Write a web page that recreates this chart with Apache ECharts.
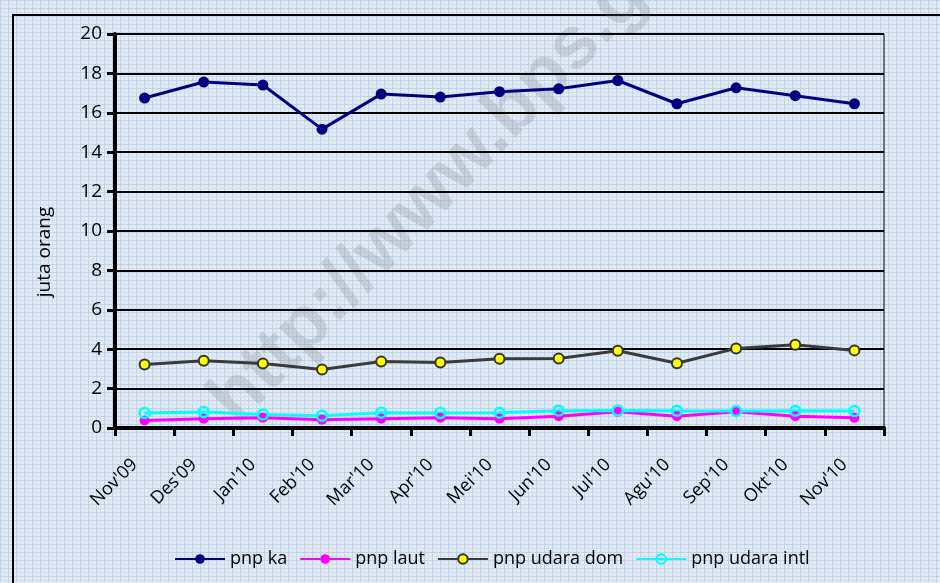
<!DOCTYPE html>
<html>
<head>
<meta charset="utf-8">
<title>pnp</title>
<script src="https://cdn.jsdelivr.net/npm/echarts@6/dist/echarts.min.js"></script>
<style>
  html, body { margin: 0; padding: 0; }
  #main { width: 940px; height: 583px; }
</style>
</head>
<body>
<div id="main"></div>
<script>
// data (juta orang)
var months = ["Nov'09", "Des'09", "Jan'10", "Feb'10", "Mar'10", "Apr'10", "Mei'10",
  "Jun'10", "Jul'10", "Agu'10", "Sep'10", "Okt'10", "Nov'10"];
var pnpKa = [16.75, 17.56, 17.41, 15.17, 16.95, 16.8, 17.07, 17.22, 17.64, 16.46, 17.27, 16.87, 16.46];
var pnpLaut = [0.38, 0.47, 0.52, 0.42, 0.47, 0.52, 0.47, 0.6, 0.82, 0.6, 0.83, 0.6, 0.52];
var pnpUdaraDom = [3.22, 3.41, 3.27, 2.97, 3.38, 3.33, 3.51, 3.53, 3.92, 3.29, 4.04, 4.23, 3.94];
var pnpUdaraIntl = [0.76, 0.81, 0.69, 0.62, 0.78, 0.76, 0.78, 0.88, 0.89, 0.87, 0.86, 0.87, 0.86];
var yTicks = { min: 0, max: 20, step: 2 };

// graph paper background like the excel chart
function paper() {
  var c = document.createElement('canvas');
  c.width = 8; c.height = 8;
  var g = c.getContext('2d');
  g.fillStyle = '#e3ebf6';
  g.fillRect(0, 0, 8, 8);
  g.fillStyle = '#bfd1e9';
  g.fillRect(0, 0, 8, 1);
  g.fillRect(0, 0, 1, 8);
  g.fillStyle = '#d3dfef';
  g.fillRect(0, 4, 8, 1);
  g.fillRect(4, 0, 1, 8);
  return c;
}

var font = 'Open Sans';
var chart = echarts.init(document.getElementById('main'));

chart.setOption({
  animation: false,
  backgroundColor: { image: paper(), repeat: 'repeat' },
  textStyle: { fontFamily: font },
  grid: {
    left: 115, right: 56, top: 34, bottom: 155,
    show: true, borderColor: '#000', borderWidth: 1
  },
  graphic: [
    {
      type: 'rect', silent: true, z: -1,
      shape: { x: 13, y: 15, width: 1000, height: 1000 },
      style: { fill: null, stroke: '#000', lineWidth: 2 }
    },
    {
      type: 'text', silent: true, z: 0,
      x: 250, y: 438, rotation: Math.PI / 4 + 0.02,
      style: {
        text: 'http://www.bps.go.id',
        font: 'bold 74px "Liberation Sans"',
        fill: 'rgba(120,120,120,0.22)',
        textVerticalAlign: 'bottom'
      }
    },
    {
      type: 'text', silent: true,
      x: 45, y: 252, rotation: Math.PI / 2,
      style: {
        text: 'juta orang',
        font: '19px "Open Sans"',
        fill: '#000',
        align: 'center', verticalAlign: 'middle'
      }
    }
  ],
  legend: {
    left: 169, top: 545,
    itemWidth: 50, itemHeight: 12, itemGap: 12,
    textStyle: { fontFamily: font, fontSize: 18, color: '#000' },
    data: ['pnp ka', 'pnp laut', 'pnp udara dom', 'pnp udara intl']
  },
  xAxis: {
    type: 'category',
    data: months,
    boundaryGap: true,
    axisLine: { lineStyle: { color: '#000', width: 4 } },
    axisTick: { show: true, interval: 0, length: 8, lineStyle: { color: '#000', width: 3 } },
    axisLabel: {
      interval: 0, rotate: 45, margin: 24, padding: [0, 14, 0, 0],
      fontFamily: font, fontSize: 18, color: '#000'
    }
  },
  yAxis: {
    type: 'value',
    min: yTicks.min, max: yTicks.max, interval: yTicks.step,
    axisLine: { show: true, lineStyle: { color: '#000', width: 4 } },
    axisTick: { show: true, length: 8, lineStyle: { color: '#000', width: 3 } },
    axisLabel: { margin: 13, fontFamily: font, fontSize: 19, color: '#000' },
    splitLine: { lineStyle: { color: '#000', width: 2 } }
  },
  series: [
    {
      name: 'pnp ka', type: 'line', data: pnpKa,
      symbol: 'circle', symbolSize: 11,
      lineStyle: { color: '#000080', width: 3 },
      itemStyle: { color: '#000080' }
    },
    {
      name: 'pnp laut', type: 'line', data: pnpLaut,
      symbol: 'circle', symbolSize: 10,
      lineStyle: { color: '#ff00ff', width: 3 },
      itemStyle: { color: '#ff00ff' }
    },
    {
      name: 'pnp udara dom', type: 'line', data: pnpUdaraDom,
      symbol: 'circle', symbolSize: 10,
      lineStyle: { color: '#3a3a3a', width: 3 },
      itemStyle: { color: '#ffff00', borderColor: '#333', borderWidth: 2 }
    },
    {
      name: 'pnp udara intl', type: 'line', data: pnpUdaraIntl,
      symbol: 'circle', symbolSize: 10,
      lineStyle: { color: '#00ffff', width: 3 },
      itemStyle: { color: 'rgba(0,0,0,0)', borderColor: '#00ffff', borderWidth: 2.5 }
    }
  ]
});
</script>
</body>
</html>
